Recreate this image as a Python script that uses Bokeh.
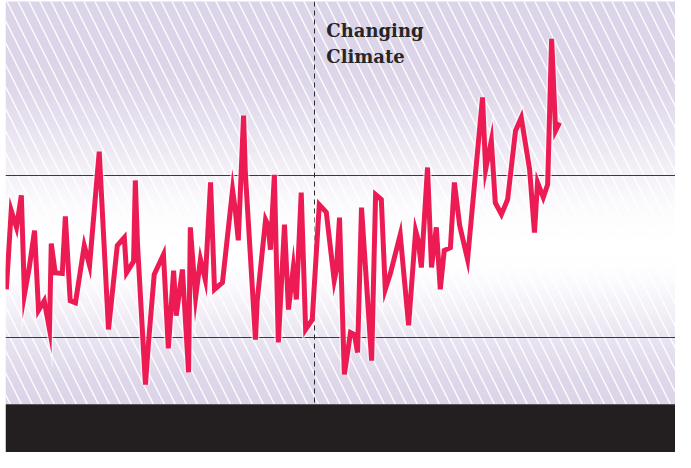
import numpy as np
from bokeh.plotting import figure
from bokeh.models import Range1d
from bokeh.embed import file_html
from bokeh.resources import INLINE
from bokeh.core.properties import value

# ---- data -----------------------------------------------------------------
years = [1880.0, 1881.1, 1882.3, 1883.4, 1884.1, 1885.2, 1886.4, 1887.3, 1888.6, 1889.8,
         1890.2, 1891.1, 1892.7, 1893.4, 1894.5, 1895.7, 1897.7, 1898.9, 1901.1, 1903.2,
         1905.2, 1906.8, 1907.3, 1908.9, 1909.3, 1909.8, 1911.6, 1912.3, 1913.6, 1915.7,
         1916.8, 1918.0, 1918.6, 1920.0, 1921.4, 1921.8, 1923.0, 1924.1, 1925.2, 1926.4,
         1927.3, 1929.1, 1931.4, 1932.0, 1932.7, 1933.9, 1934.3, 1936.6, 1937.0, 1938.9,
         1939.5, 1940.0, 1940.9, 1941.8, 1943.2, 1944.1, 1945.2, 1945.9, 1947.0, 1948.0,
         1949.5, 1951.1, 1952.7, 1954.5, 1955.0, 1955.7, 1956.8, 1958.2, 1959.1, 1959.8,
         1960.7, 1961.6, 1963.0, 1963.9, 1965.2, 1966.1, 1967.3, 1969.5, 1971.4, 1973.0,
         1973.6, 1974.3, 1975.7, 1976.6, 1977.7, 1978.6, 1979.5, 1980.9, 1981.8, 1983.0,
         1984.8, 1988.2, 1988.9, 1990.2, 1991.1, 1992.5, 1993.9, 1995.7, 1997.0, 1998.9,
         2000.0, 2000.7, 2002.0, 2003.0, 2003.9, 2004.8, 2005.7]

anomaly = [-0.081, 0.114, 0.072, 0.151, -0.094, -0.027, 0.064, -0.133, -0.109, -0.180,
           0.032, -0.040, -0.042, 0.099, -0.109, -0.114, 0.027, -0.022, 0.259, -0.180,
           0.027, 0.047, -0.040, -0.012, 0.188, 0.030, -0.316, -0.212, -0.044, 0.005,
           -0.227, -0.035, -0.146, -0.032, -0.286, 0.072, -0.101, -0.007, -0.057, 0.183,
           -0.081, -0.064, 0.165, 0.116, 0.040, 0.348, 0.207, -0.205, -0.109, 0.091,
           0.077, 0.017, 0.202, -0.212, 0.079, -0.131, -0.027, -0.106, 0.158, -0.180,
           -0.156, 0.128, 0.109, -0.059, -0.032, 0.096, -0.291, -0.188, -0.193, -0.237,
           0.121, -0.027, -0.257, 0.153, 0.141, -0.081, -0.040, 0.054, -0.170, 0.064,
           0.040, -0.027, 0.220, -0.027, 0.072, -0.081, 0.015, 0.022, 0.183, 0.077,
           -0.007, 0.393, 0.215, 0.286, 0.133, 0.104, 0.141, 0.311, 0.343, 0.215,
           0.059, 0.183, 0.146, 0.178, 0.538, 0.311, 0.331]

band_levels = [0.2, -0.2]
divider_years = [1950]
label_lines = ["Changing", "Climate"]

# ---- layout ---------------------------------------------------------------
X0, X1 = 1879.8, 2032.05
Y_FLOOR, Y_PANEL, Y_TOP = -0.484, -0.365, 0.630

p = figure(width=675, height=452,
           x_range=Range1d(X0, X1), y_range=Range1d(Y_FLOOR, Y_TOP),
           output_backend="svg", toolbar_location=None,
           min_border_left=5, min_border_right=0, min_border_top=1, min_border_bottom=0,
           x_axis_location=None, y_axis_location=None,
           background_fill_color="white", border_fill_color="white",
           outline_line_color=None)
p.xgrid.visible = False
p.ygrid.visible = False

# background gradient: lavender at top / bottom, white in the middle
purple = np.array([220, 212, 232])
white = np.array([255, 255, 255])
n = 120
edges = np.linspace(Y_PANEL, Y_TOP, n + 1)
mids = (edges[:-1] + edges[1:]) / 2
center = 0.022
colors = []
for m in mids:
    if m >= center:
        t = (m - center) / (0.50 - center)
    else:
        t = (center - m) / (center - Y_PANEL)
    t = min(max(t, 0.0), 1.0)
    t = t * t * (3 - 2 * t)
    c = white + (purple - white) * t
    colors.append("#%02x%02x%02x" % tuple(int(round(v)) for v in c))
p.quad(left=X0, right=X1, bottom=edges[:-1], top=edges[1:] + 0.002,
       fill_color=colors, line_color=None)

# diagonal white hatch
p.quad(left=[X0], right=[X1], bottom=[Y_PANEL], top=[Y_TOP],
       fill_alpha=0, line_color=None,
       hatch_pattern="\\", hatch_color="white", hatch_scale=22,
       hatch_weight=1.4, hatch_alpha=0.95)

# reference band lines and divider
p.hspan(y=band_levels, line_color="#3a3a3a", line_width=1.2)
p.vspan(x=divider_years, line_color="#2a2a2a", line_width=1, line_dash="5 4")

# black footer bar
p.quad(left=[X0], right=[X1], bottom=[Y_FLOOR], top=[Y_PANEL],
       fill_color="#231f20", line_color=None)

# series
p.line(years, anomaly, line_color="white", line_width=8, line_alpha=0.55,
       line_join="miter")
p.line(years, anomaly, line_color="#ec1b53", line_width=5, line_join="miter")

# label
p.text(x=[1952.7, 1952.7], y=[0.558, 0.494], text=label_lines,
       text_font=value("DejaVu Serif"), text_font_style="bold",
       text_font_size="18px", text_color="#262626", text_baseline="alphabetic")

open("out.html", "w").write(file_html(p, INLINE))
